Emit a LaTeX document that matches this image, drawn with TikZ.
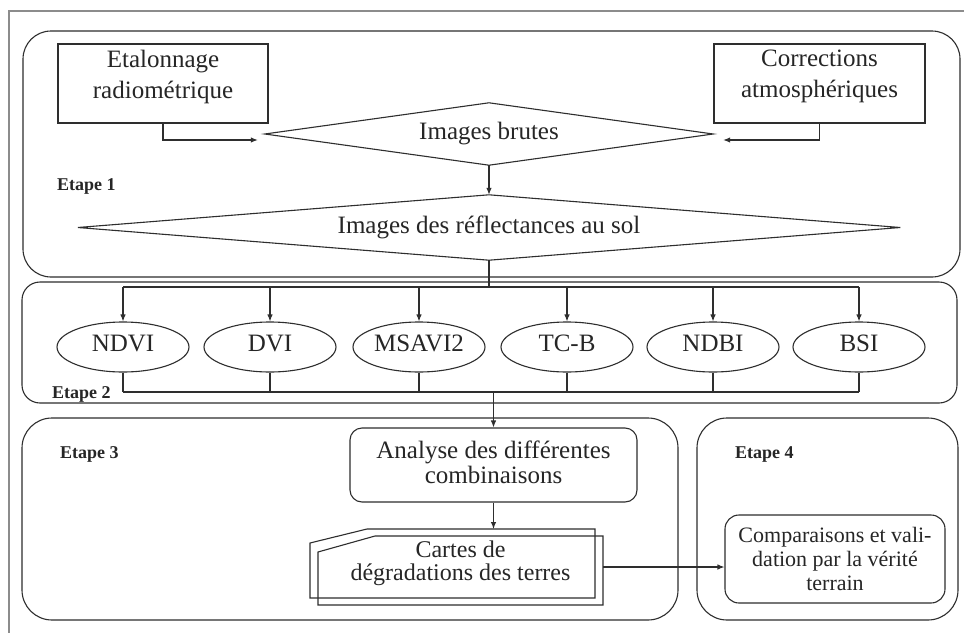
\documentclass[tikz,border=0pt]{standalone}
\usepackage{fontspec}
\setmainfont{Liberation Serif}
\usetikzlibrary{arrows.meta,shapes.geometric}
\begin{document}
\begin{tikzpicture}[x=1pt,y=-1pt,
  every node/.style={text=black!85},
  ln/.style={draw=black!82, line width=1.1pt},
  arr/.style={ln, -{Latex[length=7pt,width=5.5pt]}},
  stagebox/.style={ln, rectangle, inner sep=0pt},
  mainfont/.style={font=\fontsize{25}{31}\selectfont},
  sqbox/.style={ln, rectangle, inner sep=0pt, align=center, mainfont},
  diam/.style={rectangle, inner sep=0pt, mainfont},
  idx/.style={ln, ellipse, inner sep=0pt, minimum width=132pt, minimum height=50pt, mainfont, text depth=8pt},
  etape/.style={font=\bfseries\fontsize{18}{20}\selectfont, anchor=base west, inner sep=0pt}
]
\useasboundingbox (0,0) rectangle (964,632);
\fill[white] (0,0) rectangle (964,632);
% outer frame
\draw[black!45, line width=1.5pt] (9,640) -- (9,11) -- (970,11);

% stage containers
\node[stagebox, rounded corners=28pt, minimum width=937pt, minimum height=246pt] (s1) at (491.5,154) {};
\node[stagebox, rounded corners=18pt, minimum width=935pt, minimum height=121pt] (s2) at (489.5,342.5) {};
\node[stagebox, rounded corners=30pt, minimum width=656pt, minimum height=202pt] (s3) at (350,519) {};
\node[stagebox, rounded corners=30pt, minimum width=261pt, minimum height=202pt] (s4) at (827.5,519) {};

\node[etape] (l1) at (57,190) {Etape 1};
\node[etape] (l2) at (52,398) {Etape 2};
\node[etape] (l3) at (60,458) {Etape 3};
\node[etape] (l4) at (735,458) {Etape 4};

% stage 1
\node[sqbox, minimum width=210pt, minimum height=79pt, text depth=19pt] (etal) at (163,83.5) {Etalonnage\\radiométrique};
\node[sqbox, minimum width=211pt, minimum height=79pt, text depth=19pt] (corr) at (819.5,83.5) {Corrections\\atmosphériques};
\node[diam, minimum width=448pt, minimum height=62pt] (brutes) at (489,134) {Images brutes};
\draw[ln] (brutes.west) -- (brutes.north) -- (brutes.east) -- (brutes.south) -- cycle;
\node[diam, minimum width=822pt, minimum height=65pt] (refl) at (489,227.5) {Images des réflectances au sol};
\draw[ln] (refl.west) -- (refl.north) -- (refl.east) -- (refl.south) -- cycle;

\draw[arr] (etal.south) |- ([xshift=-7pt,yshift=-6pt]brutes.west);
\draw[arr] (corr.south) |- ([xshift=10pt,yshift=-6pt]brutes.east);
\draw[arr] (brutes.south) -- (refl.north);

% stage 2
\node[idx] (e1) at (123,347) {NDVI};
\node[idx] (e2) at (270,347) {DVI};
\node[idx] (e3) at (419,347) {MSAVI2};
\node[idx] (e4) at (567,347) {TC-B};
\node[idx] (e5) at (713,347) {NDBI};
\node[idx] (e6) at (859,347) {BSI};

\coordinate (bar1) at (489,287);
\coordinate (bar2) at (493,392);
\draw[ln] (refl.south) -- (bar1);
\draw[ln] (e1.north |- bar1) -- (e6.north |- bar1);
\draw[ln] (e1.south |- bar2) -- (e6.south |- bar2);
\foreach \e in {e1,e2,e3,e4,e5,e6}{
  \draw[arr] (\e.north |- bar1) -- (\e.north);
  \draw[ln] (\e.south) -- (\e.south |- bar2);
}

% stage 3
\node[ln, rectangle, rounded corners=12pt, minimum width=287pt, minimum height=74pt, inner sep=0pt, align=center,
      font=\fontsize{25}{25}\selectfont, text depth=6pt] (analyse) at (493.5,465) {Analyse des différentes\\combinaisons};
\draw[arr] (analyse.north |- bar2) -- (analyse.north);

\node[rectangle, minimum width=285pt, minimum height=69pt, inner sep=0pt, align=center,
      font=\fontsize{24}{23}\selectfont, text height=26pt] (cartes) at (460.5,570.5) {Cartes de\\dégradations des terres};
\draw[ln] (310,598) -- (310,543) -- (367,529) -- (595,529) -- (595,598) -- cycle;
\draw[ln] (318,605) -- (318,552) -- (375,536) -- (603,536) -- (603,605) -- cycle;
\coordinate (cartestop) at (493.5,529);
\coordinate (cartesout) at (603,567);
\draw[arr] (analyse.south) -- (cartestop);

% stage 4
\node[ln, rectangle, rounded corners=14pt, minimum width=220pt, minimum height=88pt, inner sep=0pt, align=center,
      font=\fontsize{22}{24}\selectfont] (comp) at (835,559) {Comparaisons et vali-\\dation par la vérité\\terrain};
\draw[arr] (cartesout) -- (cartesout -| comp.west);
\end{tikzpicture}
\end{document}
